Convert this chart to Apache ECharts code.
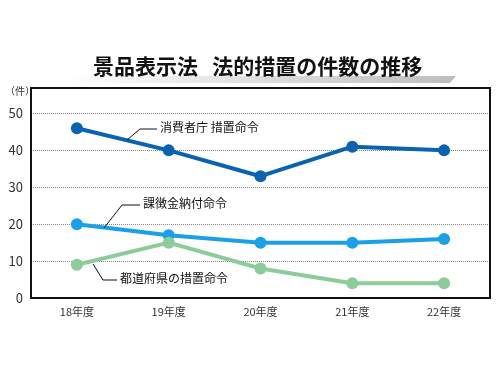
<!DOCTYPE html>
<html>
<head>
<meta charset="utf-8">
<script src="https://cdn.jsdelivr.net/npm/echarts@6/dist/echarts.min.js"></script>
<style>
  html, body { margin: 0; padding: 0; background: #fff; }
  #main { width: 500px; height: 375px; }
</style>
</head>
<body>
<div id="main"></div>
<script>
// 年度
const years = ["18年度", "19年度", "20年度", "21年度", "22年度"];
// 消費者庁 措置命令
const shohishaCho = [46, 40, 33, 41, 40];
// 課徴金納付命令
const kachokin = [20, 17, 15, 15, 16];
// 都道府県の措置命令
const todofuken = [9, 15, 8, 4, 4];

const FONT = "Noto Sans CJK JP";
const chart = echarts.init(document.getElementById("main"));

function lineSeries(name, data, color) {
  return {
    name: name,
    type: "line",
    data: data,
    symbol: "circle",
    symbolSize: 12,
    lineStyle: { width: 4, color: color },
    itemStyle: { color: color },
    z: 3,
  };
}

const option = {
  animation: false,
  textStyle: { fontFamily: FONT },
  title: {
    text: "景品表示法   法的措置の件数の推移",
    left: 88,
    top: 51,
    textStyle: { fontFamily: FONT, fontSize: 21, fontWeight: "bold", color: "#111" },
  },
  grid: { left: 31, right: 10, top: 88, bottom: 77 },
  xAxis: {
    type: "category",
    data: years,
    boundaryGap: true,
    axisLine: { lineStyle: { color: "#111", width: 2 } },
    axisTick: { inside: true, length: 5, lineStyle: { color: "#111", width: 1.5 } },
    axisLabel: { color: "#333", fontSize: 11, margin: 8, fontFamily: FONT },
  },
  yAxis: {
    type: "value",
    min: 0,
    max: 56.9,
    interval: 10,
    axisLine: { show: true, lineStyle: { color: "#111", width: 2 } },
    axisTick: { show: false },
    axisLabel: { color: "#333", fontSize: 13, margin: 8, showMaxLabel: false, fontFamily: FONT },
    splitLine: { lineStyle: { type: "dotted", color: "#888" } },
  },
  series: [
    lineSeries("消費者庁 措置命令", shohishaCho, "#0a62b2"),
    lineSeries("課徴金納付命令", kachokin, "#1aa0e6"),
    lineSeries("都道府県の措置命令", todofuken, "#8ccc9a"),
  ],
  graphic: [
    // タイトル下のグラデーション帯
    {
      type: "polygon",
      shape: { points: [[65, 83], [450, 83], [456, 76], [65, 76]] },
      style: {
        fill: new echarts.graphic.LinearGradient(0, 0, 1, 0, [
          { offset: 0, color: "#ffffff" },
          { offset: 1, color: "#bdbdbd" },
        ]),
      },
      z: -1,
    },
    // 枠（上・右）
    {
      type: "rect",
      shape: { x: 31, y: 88, width: 459, height: 210 },
      style: { fill: "none", stroke: "#111", lineWidth: 2 },
      z: 10,
    },
    { type: "text", left: 5, top: 86, style: { text: "（件）", fontSize: 10, fill: "#333", fontFamily: FONT } },
    // 注記
    { type: "polyline", shape: { points: [[127, 140], [140, 129], [157, 129]] }, style: { stroke: "#111", lineWidth: 1 }, z: 5 },
    { type: "text", left: 160, top: 121, style: { text: "消費者庁 措置命令", fontSize: 12, fill: "#111", fontFamily: FONT }, z: 5 },
    { type: "polyline", shape: { points: [[104, 228], [122, 205], [140, 205]] }, style: { stroke: "#111", lineWidth: 1 }, z: 5 },
    { type: "text", left: 143, top: 197, style: { text: "課徴金納付命令", fontSize: 12, fill: "#111", fontFamily: FONT }, z: 5 },
    { type: "polyline", shape: { points: [[93, 264], [103, 280], [117, 280]] }, style: { stroke: "#111", lineWidth: 1 }, z: 5 },
    { type: "text", left: 120, top: 272, style: { text: "都道府県の措置命令", fontSize: 12, fill: "#111", fontFamily: FONT }, z: 5 },
  ],
};

chart.setOption(option);
</script>
</body>
</html>
